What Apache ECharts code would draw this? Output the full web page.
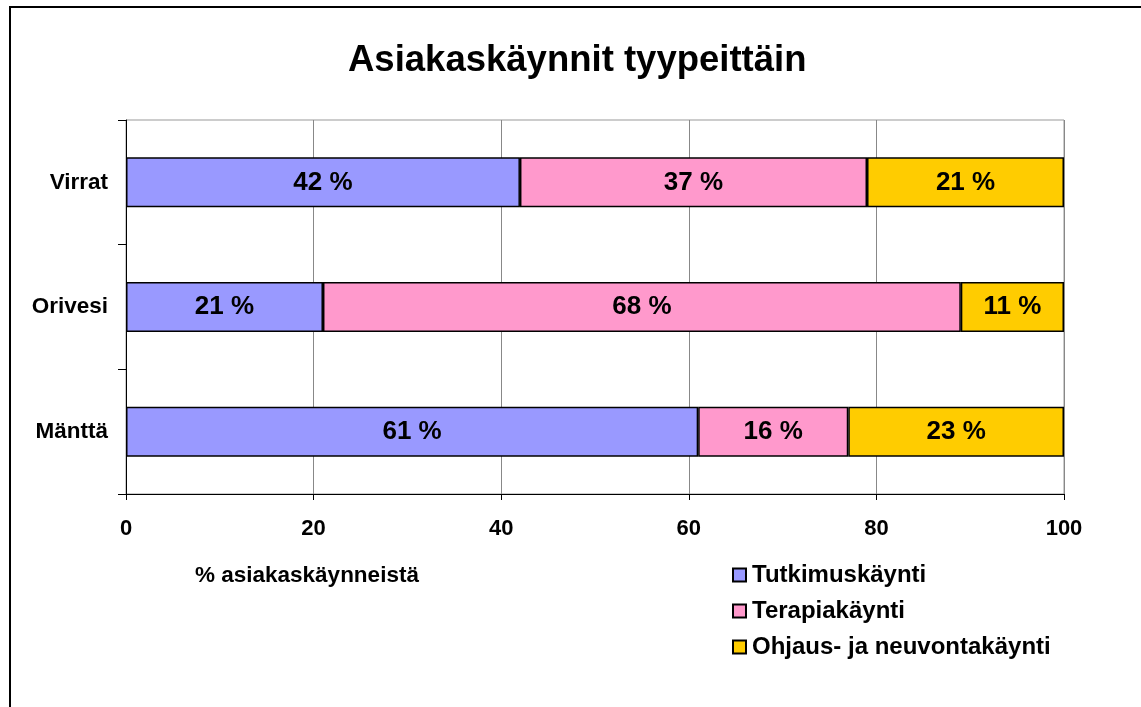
<!DOCTYPE html>
<html>
<head>
<meta charset="utf-8">
<script src="https://cdn.jsdelivr.net/npm/echarts@6/dist/echarts.min.js"></script>
<style>
  html, body { margin: 0; padding: 0; background: #fff; }
  #chart { width: 1141px; height: 707px; }
</style>
</head>
<body>
<div id="chart"></div>
<script>
// data
const categories = ['Mänttä', 'Orivesi', 'Virrat']
const tutkimus = [61, 21, 42]
const terapia = [16, 68, 37]
const ohjaus = [23, 11, 21]
const xTicks = [0, 20, 40, 60, 80, 100]

const FONT = "'Liberation Sans', Arial, sans-serif"

const chart = echarts.init(document.getElementById('chart'), null, { renderer: 'canvas' })

const barSeries = (name, data, color) => ({
  name,
  type: 'bar',
  stack: 'total',
  barWidth: 50,
  data,
  itemStyle: { color, borderColor: '#000', borderWidth: 1.5 },
  label: {
    show: true,
    position: 'inside',
    formatter: '{c} %',
    color: '#000',
    fontFamily: FONT,
    fontWeight: 'bold',
    fontSize: 26,
  },
  emphasis: { disabled: true },
})

const option = {
  backgroundColor: '#fff',
  animation: false,
  title: {
    text: 'Asiakaskäynnit tyypeittäin',
    left: 343,
    top: 37,
    textStyle: { fontFamily: FONT, fontWeight: 'bold', fontSize: 36.5, color: '#000' },
  },
  grid: { left: 126, right: 77, top: 120, bottom: 213, show: true, borderColor: '#999', borderWidth: 1 },
  xAxis: {
    type: 'value',
    min: 0,
    max: 100,
    interval: 20,
    axisLine: { show: true, lineStyle: { color: '#000', width: 1 } },
    axisTick: { show: true, length: 6, lineStyle: { color: '#000' } },
    splitLine: { show: true, lineStyle: { color: '#888', width: 1 } },
    axisLabel: {
      margin: 24,
      color: '#000',
      fontFamily: FONT,
      fontWeight: 'bold',
      fontSize: 22,
      formatter: (v) => (xTicks.includes(v) ? String(v) : ''),
    },
  },
  yAxis: {
    type: 'category',
    data: categories,
    axisLine: { show: true, lineStyle: { color: '#000', width: 1 } },
    axisTick: { show: true, length: 8, lineStyle: { color: '#000' } },
    axisLabel: { margin: 18, color: '#000', fontFamily: FONT, fontWeight: 'bold', fontSize: 22.5 },
  },
  legend: {
    orient: 'vertical',
    left: 727,
    top: 558,
    itemWidth: 13,
    itemHeight: 13,
    itemGap: 12,
    icon: 'rect',
    textStyle: { fontFamily: FONT, fontWeight: 'bold', fontSize: 24, color: '#000', padding: [0, 0, 0, 1] },
    data: ['Tutkimuskäynti', 'Terapiakäynti', 'Ohjaus- ja neuvontakäynti'],
  },
  graphic: [
    {
      type: 'rect',
      shape: { x: 10, y: 7, width: 1200, height: 800 },
      style: { fill: 'none', stroke: '#000', lineWidth: 2 },
      silent: true,
    },
    {
      type: 'text',
      left: 195,
      top: 564,
      style: { text: '% asiakaskäynneistä', fontFamily: FONT, fontWeight: 'bold', fontSize: 22.5, fill: '#000' },
    },
  ],
  series: [
    barSeries('Tutkimuskäynti', tutkimus, '#9999FF'),
    barSeries('Terapiakäynti', terapia, '#FF99CC'),
    barSeries('Ohjaus- ja neuvontakäynti', ohjaus, '#FFCC00'),
  ],
}

chart.setOption(option)
window.addEventListener('resize', () => chart.resize())
</script>
</body>
</html>
